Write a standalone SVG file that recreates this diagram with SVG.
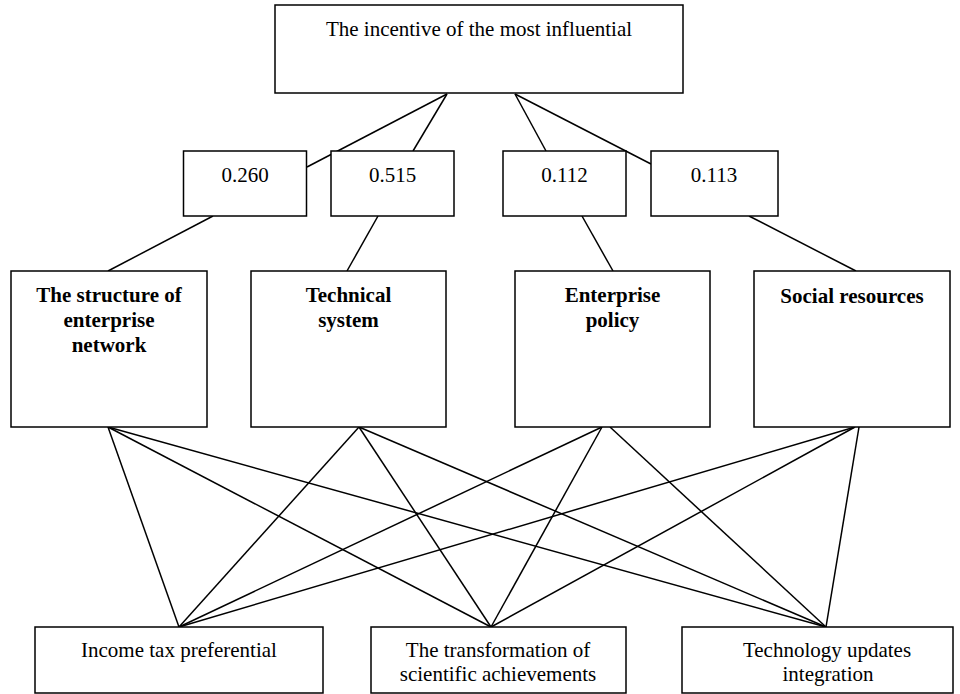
<svg xmlns="http://www.w3.org/2000/svg" width="960" height="694" viewBox="0 0 960 694">
<style>
.box{fill:#fff;stroke:#000;stroke-width:1.5}
.ln{stroke:#000;stroke-width:1.5;fill:none}
text{font-family:"Liberation Serif","Times New Roman",serif;font-size:21px;fill:#000;text-anchor:middle}
.b{font-weight:bold}
</style>
<rect width="960" height="694" fill="#fff"/>
<g id="connectors">
<line class="ln" x1="447" y1="94" x2="307" y2="167"/>
<line class="ln" x1="447" y1="94" x2="413" y2="151"/>
<line class="ln" x1="515" y1="94" x2="546" y2="151"/>
<line class="ln" x1="515" y1="94" x2="651" y2="164"/>
<line class="ln" x1="213" y1="216" x2="108" y2="271"/>
<line class="ln" x1="378" y1="216" x2="347" y2="271"/>
<line class="ln" x1="582" y1="216" x2="613" y2="271"/>
<line class="ln" x1="749" y1="216" x2="856" y2="271"/>
<line class="ln" x1="108" y1="427" x2="179" y2="627"/>
<line class="ln" x1="108" y1="427" x2="491" y2="627"/>
<line class="ln" x1="108" y1="427" x2="826" y2="627"/>
<line class="ln" x1="359" y1="427" x2="179" y2="627"/>
<line class="ln" x1="359" y1="427" x2="491" y2="627"/>
<line class="ln" x1="359" y1="427" x2="826" y2="627"/>
<line class="ln" x1="602" y1="427" x2="179" y2="627"/>
<line class="ln" x1="602" y1="427" x2="491" y2="627"/>
<line class="ln" x1="610" y1="427" x2="826" y2="627"/>
<line class="ln" x1="855" y1="427" x2="179" y2="627"/>
<line class="ln" x1="855" y1="427" x2="491" y2="627"/>
<line class="ln" x1="859" y1="427" x2="826" y2="627"/>
</g>
<g id="top">
<rect class="box" x="275" y="5" width="408" height="88"/>
<text x="479" y="36">The incentive of the most influential</text>
</g>
<g id="w1">
<rect class="box" x="183.5" y="151" width="123" height="65"/>
<text x="245" y="182">0.260</text>
</g>
<g id="w2">
<rect class="box" x="331" y="151" width="123" height="65"/>
<text x="392.5" y="182">0.515</text>
</g>
<g id="w3">
<rect class="box" x="503" y="151" width="123" height="65"/>
<text x="564.5" y="182">0.112</text>
</g>
<g id="w4">
<rect class="box" x="651" y="151" width="127" height="65"/>
<text x="714" y="182">0.113</text>
</g>
<g id="m1">
<rect class="box" x="11" y="271" width="196" height="156"/>
<text class="b" x="109" y="302">The structure of</text>
<text class="b" x="109" y="327">enterprise</text>
<text class="b" x="109" y="351.5">network</text>
</g>
<g id="m2">
<rect class="box" x="251" y="271" width="195" height="156"/>
<text class="b" x="348.5" y="302">Technical</text>
<text class="b" x="348.5" y="327">system</text>
</g>
<g id="m3">
<rect class="box" x="515" y="271" width="195" height="156"/>
<text class="b" x="612.5" y="302">Enterprise</text>
<text class="b" x="612.5" y="327">policy</text>
</g>
<g id="m4">
<rect class="box" x="754" y="271" width="196" height="156"/>
<text class="b" x="852" y="303">Social resources</text>
</g>
<g id="b1">
<rect class="box" x="35" y="627" width="288" height="66"/>
<text x="179" y="657">Income tax preferential</text>
</g>
<g id="b2">
<rect class="box" x="371" y="627" width="255" height="66"/>
<text x="498" y="657">The transformation of</text>
<text x="498" y="681">scientific achievements</text>
</g>
<g id="b3">
<rect class="box" x="682" y="627" width="271" height="66"/>
<text x="827" y="657">Technology updates</text>
<text x="828" y="681">integration</text>
</g>
</svg>
